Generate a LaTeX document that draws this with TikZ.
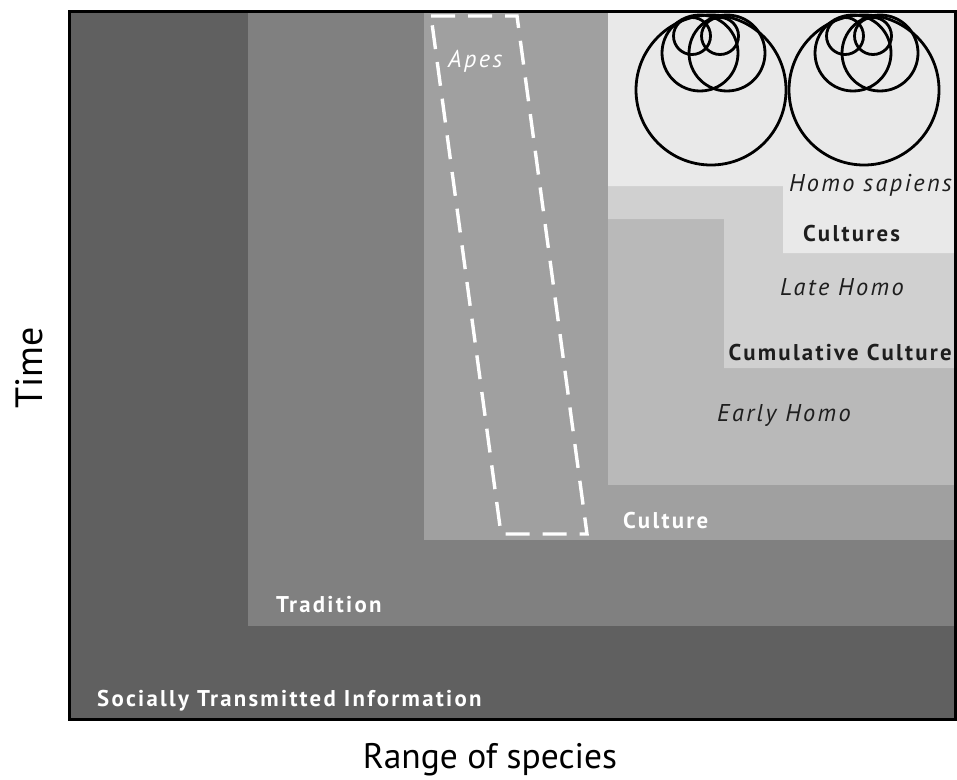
\documentclass[tikz,border=0pt]{standalone}
\usepackage{fontspec}
\setmainfont{PT Sans}
\newfontfamily\axisfont{PT Sans}
\newfontfamily\tagfont[LetterSpace=10]{PT Sans}
\usetikzlibrary{calc}
\definecolor{stiGray}{HTML}{606060}
\definecolor{tradGray}{HTML}{808080}
\definecolor{cultGray}{HTML}{A0A0A0}
\definecolor{earlyGray}{HTML}{B9B9B9}
\definecolor{lateGray}{HTML}{D0D0D0}
\definecolor{sapGray}{HTML}{E9E9E9}
\definecolor{inkDark}{HTML}{1E1E1E}
\begin{document}
\begin{tikzpicture}[x=1pt,y=-1pt,
  boldtag/.style={anchor=base west,inner sep=0pt,font=\tagfont\bfseries\fontsize{22.8}{27}\selectfont},
  itatag/.style={anchor=base west,inner sep=0pt,font=\tagfont\itshape\fontsize{24.3}{28}\selectfont},
  lighttext/.style={text=white},
  darktext/.style={text=inkDark},
  ring/.style={draw=black,line width=2.8pt},
  apesbox/.style={draw=white,line width=3.4pt,dash pattern=on 24pt off 13pt}]
\useasboundingbox (0,0) rectangle (957,779);
\fill[white] (0,0) rectangle (957,779);

% nested domains, outermost first
\fill[stiGray]   (69,11) rectangle (955,719);
\fill[tradGray]  (248,11) rectangle (955,626);
\fill[cultGray]  (424,11) rectangle (955,540);
\fill[earlyGray] (608,11) rectangle (955,485);
\fill[lateGray]  (608,11) -- (955,11) -- (955,368) -- (724,368) -- (724,219) -- (608,219) -- cycle;
\fill[sapGray]   (608,11) -- (955,11) -- (955,253) -- (783,253) -- (783,186) -- (608,186) -- cycle;

% apes band
\draw[apesbox] (431,16) -- (517,16) -- (587,534) -- (501,534) -- cycle;

% two clusters of overlapping cultures
\foreach \dx in {0,153}{
  \draw[ring] (711+\dx,90) circle[radius=75pt];
  \draw[ring] (700+\dx,53) circle[radius=38pt];
  \draw[ring] (727+\dx,53) circle[radius=38pt];
  \draw[ring] (692+\dx,36) circle[radius=18.5pt];
  \draw[ring] (720+\dx,36) circle[radius=18.5pt];
}

% labels
\node[boldtag,lighttext] (sti)  at (97,706)  {Socially Transmitted Information};
\node[boldtag,lighttext] (trad) at (276,612) {Tradition};
\node[boldtag,lighttext] (cult) at (623,528) {Culture};
\node[itatag,darktext]   (early) at (717,421) {Early Homo};
\node[boldtag,darktext,anchor=base east] (cum) at (952,360) {Cumulative Culture};
\node[itatag,darktext]   (late) at (780,295) {Late Homo};
\node[boldtag,darktext]  (cults) at (803,241) {Cultures};
\node[itatag,darktext,anchor=base east] (sap) at (952,191) {Homo sapiens};
\node[itatag,lighttext]  (apes) at (448,67)  {Apes};

% frame
\draw[line width=3pt] (69,11) rectangle (955,719);

% axes
\node[anchor=base,inner sep=0pt,font=\axisfont\fontsize{35.5}{42}\selectfont] (xlab) at (490,768) {Range of species};
\node[anchor=base,inner sep=0pt,rotate=90,font=\axisfont\fontsize{38}{44}\selectfont] (ylab) at (42,368) {Time};
\end{tikzpicture}
\end{document}
